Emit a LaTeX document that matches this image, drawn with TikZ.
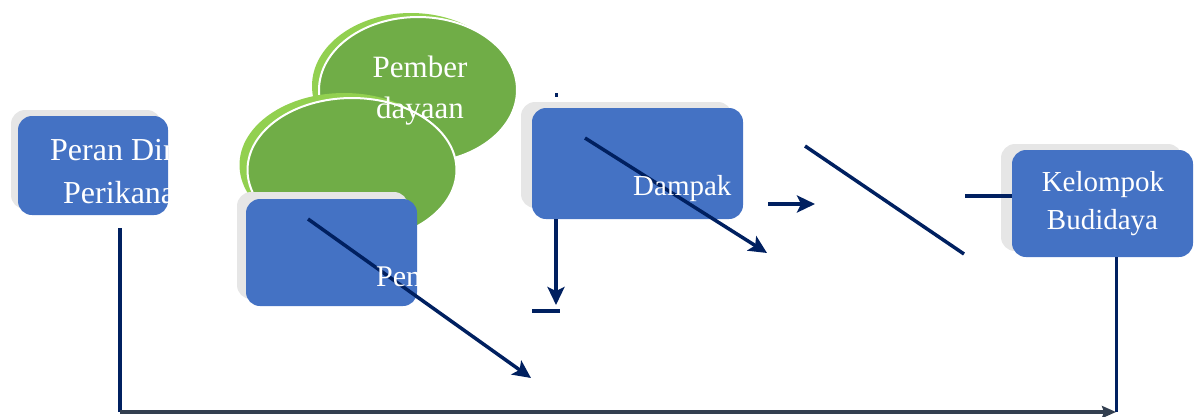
\documentclass[tikz,border=0pt]{standalone}
\usepackage{fontspec}
\setmainfont{Liberation Serif}
\usetikzlibrary{shapes.geometric,arrows.meta}
\definecolor{boxblue}{HTML}{4472C4}
\definecolor{shadowgray}{HTML}{E6E6E6}
\definecolor{leafgreen}{HTML}{70AD47}
\definecolor{lightgreen}{HTML}{92D050}
\definecolor{navy}{HTML}{002060}
\definecolor{slate}{HTML}{333F50}
\begin{document}
\begin{tikzpicture}[x=1pt,y=-1pt,
  shadowbox/.style={fill=shadowgray, rounded corners=14pt, inner sep=0pt},
  bluebox/.style={fill=boxblue, rounded corners=14pt, inner sep=0pt},
  rimellipse/.style={ellipse, fill=lightgreen, inner sep=0pt},
  greenellipse/.style={ellipse, fill=leafgreen, draw=white, line width=2pt, inner sep=0pt},
  label/.style={text=white, inner sep=0pt, anchor=base, font=\fontsize{29}{38}\selectfont},
  biglabel/.style={label, font=\fontsize{32}{43}\selectfont},
  midlabel/.style={label, font=\fontsize{31}{40}\selectfont},
  conn/.style={draw=navy, line width=3.5pt},
  arr/.style={conn, -{Stealth[length=18pt,width=17pt,inset=4pt]}}
]
\useasboundingbox (0,0) rectangle (1198,416);

% box 1
\node[shadowbox, minimum width=150pt, minimum height=99pt] (s1) at (86,159.5) {};
\node[bluebox, minimum width=150pt, minimum height=99pt] (b1) at (93,165.5) {};

% ellipses
\node[rimellipse, minimum width=198pt, minimum height=146pt] (e1r) at (411,86) {};
\node[greenellipse, minimum width=198pt, minimum height=146pt] (e1) at (418,90) {};
\node[rimellipse, minimum width=209pt, minimum height=144pt] (e2r) at (344,165) {};
\node[greenellipse, minimum width=209pt, minimum height=144pt] (e2) at (352,170) {};

% box 2
\node[shadowbox, minimum width=171pt, minimum height=107pt] (s2) at (322.5,245.5) {};
\node[bluebox, minimum width=171pt, minimum height=107pt] (b2) at (331.5,252.5) {};

% box 3
\node[shadowbox, minimum width=211pt, minimum height=106pt] (s3) at (626.5,155) {};
\node[bluebox, minimum width=211pt, minimum height=111pt] (b3) at (637.5,163.5) {};

% box 4
\node[shadowbox, minimum width=181pt, minimum height=107pt] (s4) at (1091.5,197.5) {};
\node[bluebox, minimum width=181pt, minimum height=107pt] (b4) at (1102.5,203.5) {};

% coordinates of connector ends
\coordinate (a1s) at (308,219);
\coordinate (a1e) at (531,378);
\coordinate (a2s) at (585,138);
\coordinate (a2e) at (767,253);
\coordinate (a3s) at (556,219);
\coordinate (a3e) at (556,305);
\coordinate (d1s) at (532,311);
\coordinate (d1e) at (560,311);
\coordinate (dots) at (556,93);
\coordinate (dote) at (556,97);
\coordinate (a4s) at (768,204);
\coordinate (a4e) at (815,204);
\coordinate (l5s) at (805,146);
\coordinate (l5e) at (964,254);
\coordinate (l6s) at (965,196);
\coordinate (l6e) at (1012,196);
\coordinate (lvs) at (120,228);
\coordinate (lve) at (120,412);
\coordinate (bre) at (1116,412);
\coordinate (rvs) at (1116,257);

% connectors
\draw[arr] (a1s) -- (a1e);
\draw[arr] (a2s) -- (a2e);
\draw[arr] (a3s) -- (a3e);
\draw[conn] (d1s) -- (d1e);
\draw[draw=navy, line width=3pt] (dots) -- (dote);
\draw[arr] (a4s) -- (a4e);
\draw[conn] (l5s) -- (l5e);
\draw[conn] (l6s) -- (l6e);
\draw[conn] (lvs) -- (lve);
\draw[conn, line width=3pt] (rvs) -- (bre);
\draw[draw=slate, line width=4pt, -{Stealth[length=14pt,width=12pt,inset=2pt]}] (lve) -- (bre);

% texts
\begin{scope}
\clip[rounded corners=14pt] (18,116) rectangle (168,215);
\node[biglabel, anchor=base west] (t1a) at (50,160) {Peran Dinas};
\node[biglabel, anchor=base west] (t1b) at (63,203) {Perikanan};
\end{scope}
\node[midlabel] (t2a) at (420,77) {Pember};
\node[midlabel] (t2b) at (420,118) {dayaan};
\begin{scope}
\clip[rounded corners=14pt] (246,199) rectangle (417,306);
\node[label, font=\fontsize{30}{40}\selectfont, anchor=base west] (t3) at (376,286) {Pen};
\end{scope}
\node[label, anchor=base west] (t4) at (633,195) {Dampak};
\node[label] (t5a) at (1103,191) {Kelompok};
\node[label] (t5b) at (1102.5,229) {Budidaya};
\end{tikzpicture}
\end{document}
